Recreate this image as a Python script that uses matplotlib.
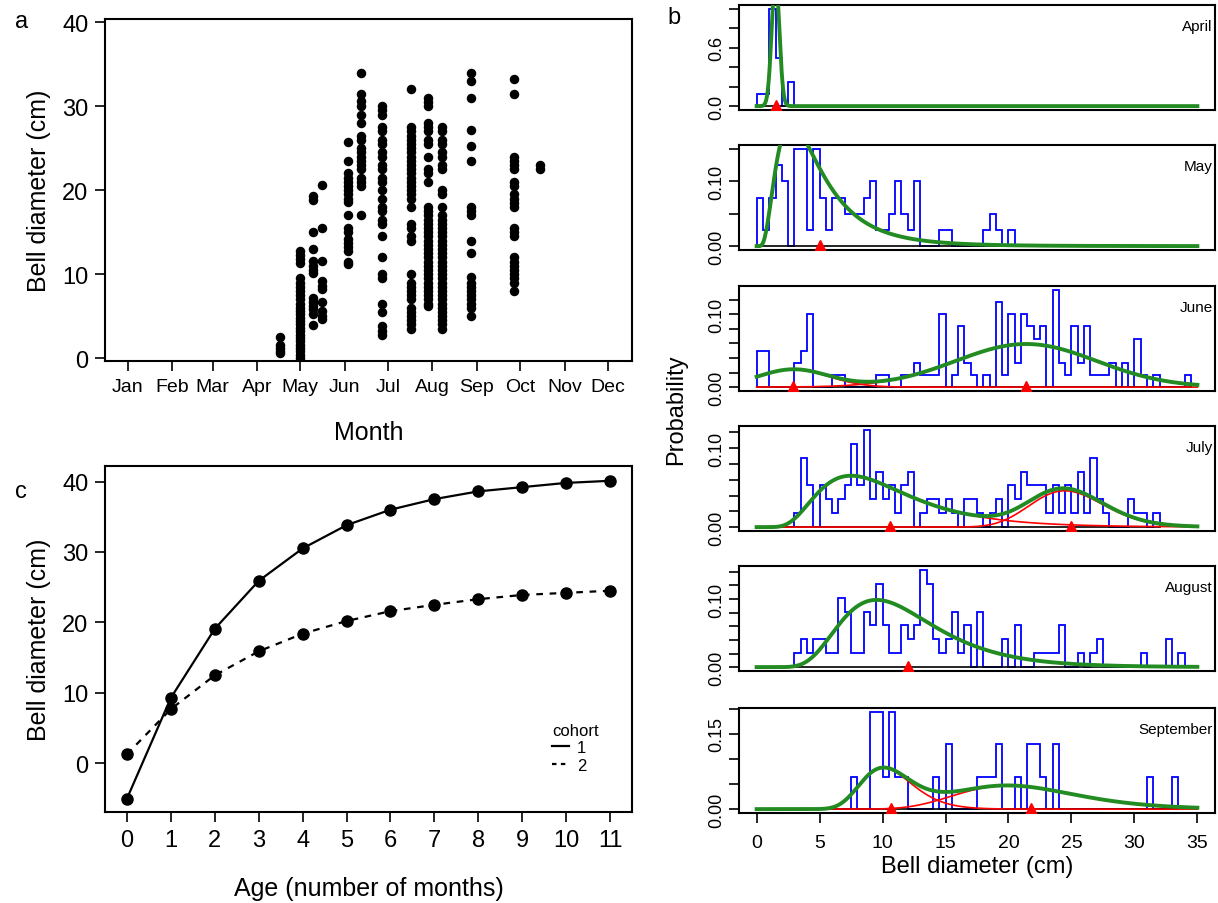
import numpy as np
import matplotlib.pyplot as plt
from matplotlib.lines import Line2D

plt.rcParams['font.family'] = ['Liberation Sans', 'DejaVu Sans']

# ---- panel a: bell diameter by sampling date ----
month_names = ['Jan', 'Feb', 'Mar', 'Apr', 'May', 'Jun', 'Jul', 'Aug', 'Sep', 'Oct', 'Nov', 'Dec']
month_start_day = [1, 32, 60, 91, 121, 152, 182, 213, 244, 274, 305, 335]
sample_day = [107, 121, 130, 136, 154, 163, 178, 198, 210, 220, 240, 270, 288]
bell_by_date = [
    [0.6, 0.9, 1.2, 1.5, 2.5],
    [0.0, 0.4, 0.8, 1.2, 1.6, 2.0, 2.4, 2.8, 3.2, 3.6, 4.0, 4.4, 4.8, 5.2, 5.6, 6.0, 6.5, 7.0,
     7.5, 8.0, 8.5, 9.0, 9.5, 11.3, 11.8, 12.3, 12.8],
    [19.3, 18.8, 15.0, 13.0, 11.6, 11.0, 10.5, 10.1, 7.2, 6.7, 6.2, 5.8, 5.2, 3.9],
    [20.6, 15.5, 11.6, 9.2, 8.6, 8.2, 6.7, 5.6, 5.0, 4.6],
    [25.8, 23.5, 22.0, 21.5, 21.0, 20.5, 20.0, 19.5, 19.0, 18.6, 17.0, 15.5, 15.0, 14.2, 13.7,
     13.2, 12.7, 11.5, 11.2],
    [34.0, 31.5, 30.6, 30.0, 29.0, 28.0, 26.5, 26.0, 25.0, 24.5, 24.0, 23.5, 23.0, 22.5, 21.5,
     21.0, 20.5, 17.0],
    [30.0, 29.5, 29.0, 27.5, 27.0, 26.0, 25.5, 24.5, 24.0, 23.0, 22.5, 21.5, 21.0, 20.0, 19.0,
     18.0, 17.5, 16.5, 16.0, 14.5, 12.0, 10.0, 9.5, 6.5, 5.5, 3.8, 3.2, 2.8],
    [32.0, 27.5, 27.0, 26.5, 26.0, 25.5, 25.0, 24.5, 24.0, 23.5, 23.0, 22.5, 22.0, 21.5, 21.0,
     20.5, 20.0, 19.5, 19.0, 18.0, 16.0, 15.5, 14.5, 14.0, 10.0, 9.0, 8.5, 8.0, 7.5, 7.0, 6.0,
     5.5, 5.0, 4.5, 4.0, 3.5],
    [31.0, 30.5, 30.0, 28.0, 27.5, 27.0, 26.0, 25.5, 24.0, 22.5, 22.0, 21.0, 18.0, 17.5, 17.0,
     16.5, 16.0, 15.5, 15.0, 14.5, 14.0, 13.5, 13.0, 12.5, 12.0, 11.5, 11.0, 10.5, 10.0, 9.5,
     9.0, 8.5, 8.0, 7.5, 7.0, 6.5, 6.2],
    [27.5, 27.0, 26.0, 25.5, 24.5, 24.0, 23.0, 22.5, 20.0, 19.5, 18.0, 17.0, 16.5, 16.0, 15.5,
     15.0, 14.5, 14.0, 13.5, 13.0, 12.5, 12.0, 11.5, 11.0, 10.5, 10.0, 9.5, 9.0, 8.5, 8.0, 7.5,
     7.0, 6.5, 6.0, 5.5, 5.0, 4.5, 4.0, 3.5],
    [34.0, 33.0, 31.0, 27.2, 25.3, 23.5, 18.0, 17.5, 17.0, 14.0, 12.5, 9.6, 9.0, 8.5, 8.0, 7.5,
     7.0, 6.5, 6.0, 5.0],
    [33.3, 31.5, 24.0, 23.5, 23.0, 22.5, 21.0, 20.5, 19.5, 19.0, 18.5, 18.0, 15.5, 15.0, 14.5,
     12.0, 11.5, 11.0, 10.5, 10.0, 9.5, 9.0, 8.0],
    [22.5, 23.0],
]

# ---- panel c: growth curves ----
age_months = list(range(12))
cohort1 = [-5.0, 9.3, 19.1, 25.9, 30.5, 33.8, 36.0, 37.5, 38.6, 39.2, 39.8, 40.1]
cohort2 = [1.3, 7.7, 12.5, 15.9, 18.4, 20.2, 21.6, 22.5, 23.3, 23.9, 24.2, 24.5]

# ---- panel b: monthly size-frequency (0.5 cm bins, counts) and fitted components ----
bin_width = 0.5
hist_months = ['April', 'May', 'June', 'July', 'August', 'September']
april_counts = [1, 1, 8, 4, 0, 2]
may_counts = [3, 1, 3, 5, 4, 0, 6, 6, 1, 6, 3, 1, 3, 3, 2, 2, 2, 3, 4, 1, 1, 2, 4, 2, 1, 4,
              0, 0, 0, 1, 1, 0, 0, 0, 0, 0, 1, 2, 1, 0, 1]
june_counts = [3, 3, 0, 0, 0, 0, 2, 3, 6, 0, 0, 0, 1, 1, 0, 0, 0, 0, 0, 1, 1, 0, 0, 1, 1, 2,
               1, 1, 1, 6, 0, 1, 5, 2, 1, 0, 1, 0, 7, 1, 6, 2, 6, 5, 4, 5, 0, 8, 2, 1, 5, 2,
               5, 1, 1, 1, 2, 0, 2, 0, 4, 1, 0, 1, 0, 0, 0, 0, 1]
july_counts = [0, 0, 0, 0, 0, 0, 1, 5, 3, 0, 3, 2, 1, 2, 3, 6, 3, 7, 2, 4, 2, 3, 1, 3, 4, 0,
               1, 2, 2, 1, 2, 1, 0, 2, 2, 1, 0, 1, 2, 0, 3, 2, 4, 3, 3, 3, 1, 3, 1, 3, 1, 4,
               1, 5, 2, 1, 0, 0, 0, 2, 1, 1, 0, 1]
august_counts = [0, 0, 0, 0, 0, 0, 1, 2, 1, 2, 2, 1, 1, 5, 4, 1, 1, 4, 3, 6, 3, 1, 1, 3, 2, 3,
                 7, 6, 2, 1, 2, 4, 1, 3, 0, 4, 0, 0, 0, 2, 0, 3, 0, 0, 1, 1, 1, 1, 3, 0, 0, 1,
                 0, 1, 2, 0, 0, 0, 0, 0, 0, 1, 0, 0, 0, 2, 0, 1]
september_counts = [0, 0, 0, 0, 0, 0, 0, 0, 0, 0, 0, 0, 0, 0, 0, 1, 0, 0, 3, 3, 1, 3, 1, 1, 0,
                    0, 0, 0, 1, 0, 2, 0, 0, 0, 0, 1, 1, 1, 2, 0, 0, 1, 0, 2, 2, 1, 0, 2, 0, 0,
                    0, 0, 0, 0, 0, 0, 0, 0, 0, 0, 0, 0, 1, 0, 0, 0, 1]
hist_unit = [0.125, 0.025, 1 / 60, 0.0176, 1 / 49, 1 / 15.5]
# fitted components: distribution, means, sds, proportions
comp_kind = ['norm', 'lnorm', 'norm', 'lnorm', 'lnorm', 'lnorm']
comp_mean = [[1.5], [5.0], [2.9, 21.4], [10.6, 25.0], [12.0], [10.7, 21.75]]
comp_sd = [[0.3], [3.5], [2.8, 5.6], [5.4, 3.0], [4.9], [2.2, 5.2]]
comp_prop = [[1.0], [1.0], [0.17, 0.83], [0.66, 0.34], [1.0], [0.43, 0.57]]
ytick_step = [0.2, 0.05, 0.02, 0.02, 0.02, 0.05]
ytick_shown = [['0.0', '0.6'], ['0.00', '0.10'], ['0.00', '0.10'], ['0.00', '0.10'],
               ['0.00', '0.10'], ['0.00', '0.15']]
all_counts = [april_counts, may_counts, june_counts, july_counts, august_counts, september_counts]


def comp_pdf(x, kind, m, s):
    if kind == 'norm':
        return np.exp(-(x - m) ** 2 / (2 * s ** 2)) / (s * np.sqrt(2 * np.pi))
    sig2 = np.log(1 + (s / m) ** 2)
    mu = np.log(m) - sig2 / 2
    xx = np.clip(x, 1e-6, None)
    return np.exp(-(np.log(xx) - mu) ** 2 / (2 * sig2)) / (xx * np.sqrt(2 * np.pi * sig2))


W, H = 1218, 904


def box(l, t, r, b):
    return [l / W, 1 - b / H, (r - l) / W, (b - t) / H]


fig = plt.figure(figsize=(W / 100, H / 100), dpi=100)

# panel a
ax = fig.add_axes(box(105, 20, 632, 362))
for d, vals in zip(sample_day, bell_by_date):
    ax.scatter([d] * len(vals), vals, s=34, color='black', zorder=3)
ax.set_xlim(-15, 352)
ax.set_ylim(-0.35, 40.4)
ax.set_xticks(month_start_day)
ax.set_xticklabels(month_names, fontsize=14)
ax.set_yticks([0, 10, 20, 30, 40])
ax.tick_params(axis='y', labelsize=17)
ax.tick_params(direction='out', length=7, width=1.2, pad=5)
ax.set_xlabel('Month', fontsize=18, labelpad=18)
ax.set_ylabel('Bell diameter (cm)', fontsize=18, labelpad=8)
for sp in ax.spines.values():
    sp.set_linewidth(1.5)
fig.text(15 / W, 1 - 22 / H, 'a', fontsize=17, va='center')

# panel c
ax = fig.add_axes(box(105, 467, 632, 813))
ax.plot(age_months, cohort1, '-', color='black', lw=1.6, marker='o', ms=8)
ax.plot(age_months, cohort2, '--', color='black', lw=1.6, marker='o', ms=8, dashes=(3, 3))
ax.set_xlim(-0.5, 11.5)
ax.set_ylim(-6.9, 42.2)
ax.set_xticks(age_months)
ax.set_yticks([0, 10, 20, 30, 40])
ax.tick_params(labelsize=17, direction='out', length=7, width=1.2, pad=5)
ax.set_xlabel('Age (number of months)', fontsize=18, labelpad=18)
ax.set_ylabel('Bell diameter (cm)', fontsize=18, labelpad=8)
for sp in ax.spines.values():
    sp.set_linewidth(1.5)
handles = [Line2D([], [], color='black', lw=1.6),
           Line2D([], [], color='black', lw=1.6, ls='--', dashes=(2, 2))]
leg = ax.legend(handles, ['1', '2'], title='cohort', frameon=False, fontsize=12,
                title_fontsize=12, handlelength=1.0, handletextpad=0.5, labelspacing=0.15,
                loc='lower right', bbox_to_anchor=(0.965, 0.07))
leg._legend_box.align = 'left'
fig.text(15 / W, 1 - 492 / H, 'c', fontsize=17, va='center')

# panel b
xs = np.linspace(0, 35, 600)
tops = [6, 146, 287, 427, 567, 709]
for i, name in enumerate(hist_months):
    ax = fig.add_axes(box(739, tops[i], 1215, tops[i] + 105))
    dens = np.array(all_counts[i]) * hist_unit[i]
    edges = np.arange(len(dens) + 1) * bin_width
    top = dens.max()
    ax.stairs(dens, edges, color='blue', lw=1.3, zorder=2)
    ax.plot([0, edges[-1]], [0, 0], color='black', lw=1.2, zorder=2)
    comps = [p * comp_pdf(xs, comp_kind[i], m, s)
             for m, s, p in zip(comp_mean[i], comp_sd[i], comp_prop[i])]
    if len(comps) > 1:
        for c in comps:
            ax.plot(xs, c, color='red', lw=1.2, zorder=3)
    ax.plot(xs, np.sum(comps, axis=0), color='#228B22', lw=2.8, zorder=4)
    ax.plot(comp_mean[i], [0] * len(comp_mean[i]), '^', color='red', ms=8, zorder=5)
    ax.set_xlim(-1.4, 36.4)
    ax.set_ylim(-0.04 * top, 1.04 * top)
    step = ytick_step[i]
    ticks = np.arange(0, top * 1.04 + 1e-9, step)
    labels = []
    for t in ticks:
        lab = ('%.1f' % t) if step >= 0.1 else ('%.2f' % t)
        labels.append(lab if lab in ytick_shown[i] else '')
    ax.set_yticks(ticks)
    ax.set_yticklabels(labels, rotation=90, va='center', fontsize=13)
    ax.tick_params(direction='out', length=7, width=1.2, pad=3)
    for sp in ax.spines.values():
        sp.set_linewidth(1.5)
    ax.text(0.995, 0.8, name, transform=ax.transAxes, ha='right', va='center', fontsize=11)
    if i < 5:
        ax.set_xticks([])
    else:
        ax.set_xticks(range(0, 36, 5))
        ax.tick_params(axis='x', labelsize=14, pad=8)
        ax.set_xlabel('Bell diameter (cm)', fontsize=17, labelpad=3)
fig.text(676 / W, 1 - 410 / H, 'Probability', fontsize=17, rotation=90, ha='center', va='center')
fig.text(667 / W, 1 - 18 / H, 'b', fontsize=17, va='center')

fig.savefig('out.png', dpi=100)
